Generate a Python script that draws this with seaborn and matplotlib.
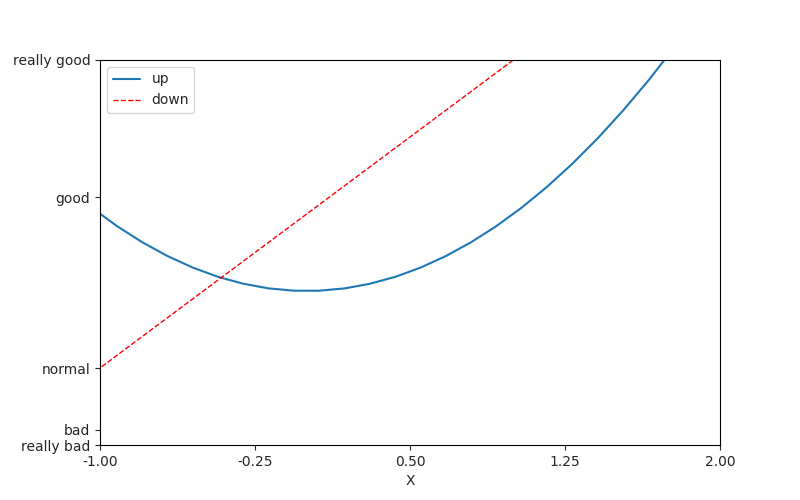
import matplotlib
matplotlib.use('Agg')
import matplotlib.pyplot as plt
import seaborn as sns

# values
x_up = [-1.163, -1.041, -0.918, -0.796, -0.673, -0.551, -0.429, -0.306, -0.184, -0.061,
        0.061, 0.184, 0.306, 0.429, 0.551, 0.673, 0.796, 0.918, 1.041, 1.163,
        1.286, 1.408, 1.531, 1.653, 1.776, 1.898]
y_up = [1.353, 1.084, 0.843, 0.634, 0.453, 0.304, 0.184, 0.094, 0.034, 0.004,
        0.004, 0.034, 0.094, 0.184, 0.304, 0.453, 0.634, 0.843, 1.084, 1.353,
        1.654, 1.982, 2.344, 2.732, 3.154, 3.602]
x_down = [-1.163, 1.898]
y_down = [-1.326, 4.796]

x_ticks = [-1.0, -0.25, 0.5, 1.25, 2.0]
y_ticks = [-2, -1.8, -1, 1.22, 3]
y_tick_labels = ['really bad', 'bad', 'normal', 'good', 'really good']

sns.set_style('white')
plt.rcParams['font.family'] = ['DejaVu Sans']
fig, ax = plt.subplots(figsize=(8, 5), dpi=100)

sns.lineplot(x=x_up, y=y_up, ax=ax, label='up', color='#1f77b4', linewidth=1.5)
sns.lineplot(x=x_down, y=y_down, ax=ax, label='down', color='red', linewidth=1.0, linestyle='--')

ax.set_xlim(-1, 2)
ax.set_ylim(-2, 3)
ax.set_xticks(x_ticks)
ax.set_xticklabels(['%.2f' % t for t in x_ticks])
ax.set_yticks(y_ticks)
ax.set_yticklabels(y_tick_labels)
ax.tick_params(direction='out', length=3.5, width=0.8, left=True, bottom=True)
for s in ax.spines.values():
    s.set_color('black')
    s.set_linewidth(0.8)
ax.set_xlabel('X')
ax.set_ylabel('')
ax.legend(loc='upper left')

fig.savefig('out.png')
